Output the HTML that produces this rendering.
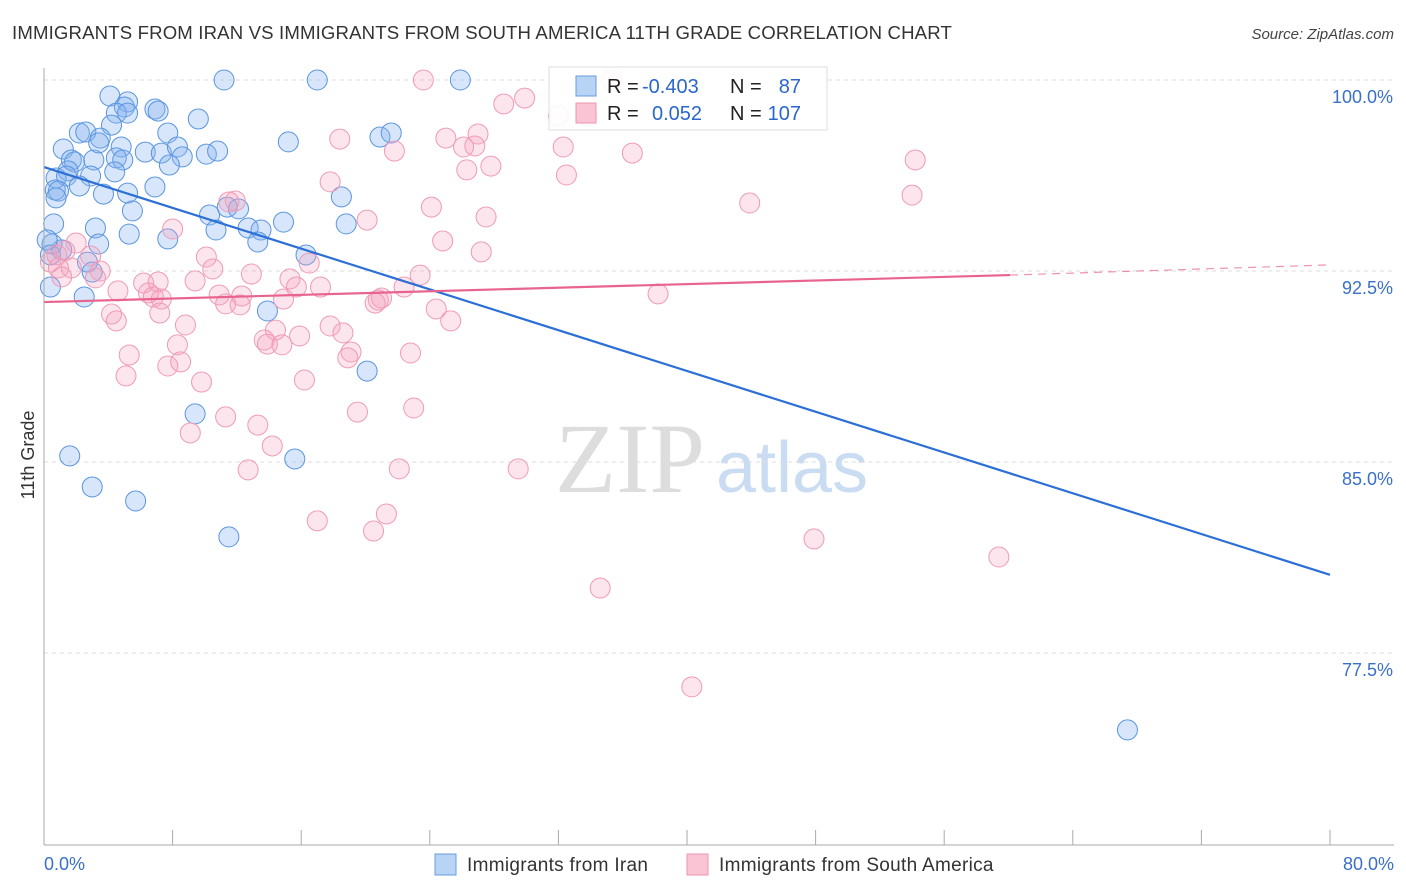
<!DOCTYPE html>
<html><head><meta charset="utf-8"><style>
body{margin:0;background:#fff;font-family:"Liberation Sans",sans-serif;}
#wrap{position:relative;width:1406px;height:892px;overflow:hidden;}
</style></head><body>
<div id="wrap">
<svg id="svg" width="1406" height="892" xmlns="http://www.w3.org/2000/svg">
<text x="12" y="39" font-size="18.6" letter-spacing="0.15" fill="#333">IMMIGRANTS FROM IRAN VS IMMIGRANTS FROM SOUTH AMERICA 11TH GRADE CORRELATION CHART</text>
<text x="1394" y="39" font-size="15" fill="#444" font-style="italic" text-anchor="end">Source: ZipAtlas.com</text>
<text x="555" y="492" font-size="100" fill="#ddd" font-family="Liberation Serif,serif">ZIP</text>
<text x="716" y="492" font-size="72" fill="#c9dcf2">atlas</text>
<text transform="translate(34,455) rotate(-90)" font-size="18" fill="#333" text-anchor="middle">11th Grade</text>
<g id="grid"></g><g id="pts"></g><g id="lines"></g>
<line x1="44" y1="68" x2="44" y2="845" stroke="#aaa"/>
<line x1="44" y1="845" x2="1394" y2="845" stroke="#aaa"/>
<text x="44" y="870" font-size="18" fill="#3a70c8">0.0%</text>
<text x="1394" y="870" font-size="18" fill="#3a70c8" text-anchor="end">80.0%</text>
<rect x="435" y="854" width="21" height="21" fill="#b8d4f5" stroke="#6a9de0"/>
<text x="467" y="871" font-size="19" letter-spacing="0.3" fill="#333">Immigrants from Iran</text>
<rect x="687" y="854" width="21" height="21" fill="#fac4d4" stroke="#ee94b0"/>
<text x="719" y="871" font-size="19" letter-spacing="0.3" fill="#333">Immigrants from South America</text>
<g>
<rect x="549" y="67" width="278" height="63" fill="#fff" fill-opacity="0.9" stroke="#ddd"/>
<rect x="576" y="76" width="20" height="20" fill="#b8d4f5" stroke="#6a9de0"/>
<rect x="576" y="103" width="20" height="20" fill="#fac4d4" stroke="#ee94b0"/>
<text x="607" y="93" font-size="20" fill="#222">R =</text>
<text x="642" y="93" font-size="20" fill="#2a66cc">-0.403</text>
<text x="730" y="93" font-size="20" fill="#222">N =</text>
<text x="801" y="93" font-size="20" fill="#2a66cc" text-anchor="end">87</text>
<text x="607" y="120" font-size="20" fill="#222">R =</text>
<text x="652" y="120" font-size="20" fill="#2a66cc">0.052</text>
<text x="730" y="120" font-size="20" fill="#222">N =</text>
<text x="801" y="120" font-size="20" fill="#2a66cc" text-anchor="end">107</text>
</g>
</svg>
</div>
<script>
const yTicks=[100,92.5,85,77.5];
const yTickLabels=["100.0%","92.5%","85.0%","77.5%"];
const xTicks=[0,8,16,24,32,40,48,56,64,72,80];
const iranX=[11.2,17.0,25.9,4.1,5.2,6.9,5.0,7.1,9.6,4.5,4.2,5.2,2.2,2.6,7.7,20.9,21.6,3.5,15.2,1.2,6.3,7.3,8.3,8.6,10.1,10.8,4.8,1.7,1.9,3.1,4.5,4.9,3.4,7.8,1.5,4.4,2.9,0.75,1.4,2.2,0.7,0.9,3.7,5.2,6.9,18.5,5.5,10.3,11.4,12.1,0.75,0.6,3.2,5.3,10.7,12.7,13.5,14.9,18.8,7.7,13.3,3.4,1.1,0.5,16.3,2.7,3.0,2.5,13.9,20.1,9.4,1.6,15.6,3.0,5.7,11.5,67.4,0.2,0.4,0.4];
const iranY=[100,100,100,99.37,99.14,98.86,98.94,98.78,98.47,98.70,98.23,98.70,97.92,97.96,97.92,97.76,97.92,97.72,97.57,97.29,97.17,97.13,97.37,96.98,97.09,97.21,97.37,96.86,96.78,96.86,96.94,96.86,97.53,96.66,96.43,96.39,96.23,96.15,96.23,95.84,95.68,95.64,95.52,95.56,95.80,95.41,94.86,94.70,95.01,94.94,95.37,94.35,94.19,93.95,94.11,94.19,94.11,94.42,94.35,93.76,93.64,93.56,93.33,93.56,93.13,92.85,92.46,91.48,90.93,88.57,86.89,85.24,85.12,84.02,83.47,82.06,74.48,93.72,93.13,91.87];
const saX=[23.6,35.3,28.6,29.9,32.0,33.8,18.4,25.0,27.0,26.1,26.8,21.8,32.3,36.6,27.8,26.3,17.8,32.5,11.9,24.1,20.1,27.5,43.9,54.2,54.0,8.0,2.0,24.8,27.2,10.1,1.3,2.9,0.4,0.9,1.7,3.5,1.1,3.2,0.8,9.4,6.2,7.1,10.5,12.9,15.3,16.5,23.4,17.2,10.9,4.6,6.5,6.8,7.3,12.3,14.9,15.7,20.8,22.4,11.3,12.2,20.6,21.0,24.4,25.3,38.2,4.2,4.5,7.2,8.8,14.4,17.8,18.6,13.7,13.9,14.8,15.9,19.1,18.9,8.3,5.3,7.7,8.5,22.8,5.1,9.8,16.2,11.3,9.1,19.5,23.0,13.3,14.2,12.7,22.1,29.5,17.0,20.5,21.3,34.6,40.3,47.9,59.4,11.5];
const saY=[100,100,99.06,99.29,98.59,98.59,97.68,97.72,97.88,97.37,97.41,97.21,97.37,97.13,96.62,96.47,96.00,96.27,95.25,95.01,94.50,94.62,95.17,96.86,95.48,94.15,93.60,93.68,93.25,93.05,93.29,93.09,92.85,92.62,92.62,92.50,92.27,92.23,93.13,92.11,92.03,92.07,92.58,92.38,92.19,92.81,92.34,91.87,91.56,91.72,91.64,91.48,91.40,91.52,91.40,91.87,91.36,91.87,91.21,91.17,91.24,91.44,91.01,90.54,91.60,90.81,90.54,90.85,90.38,90.18,90.34,90.07,89.79,89.63,89.60,89.95,89.32,89.09,89.60,89.20,88.77,88.93,89.28,88.38,88.14,88.22,86.77,86.14,86.96,87.12,86.45,85.63,84.69,84.73,84.73,82.69,82.29,82.96,80.05,76.17,81.98,81.27,95.21];
const iranTrend=[[0,96.58],[80,80.57]];
const saTrend=[[0,91.28],[60.1,92.34],[80,92.74]];
const NS="http://www.w3.org/2000/svg";
const sx=v=>44+v*(1286/80);
const sy=v=>80+(100-v)*(191/7.5);
function mk(tag,attrs,parent){const e=document.createElementNS(NS,tag);for(const k in attrs)e.setAttribute(k,attrs[k]);parent.appendChild(e);return e;}
const grid=document.getElementById('grid'),pts=document.getElementById('pts'),lines=document.getElementById('lines'),svg=document.getElementById('svg');
yTicks.forEach((t,i)=>{
 const l=mk('line',{x1:44,x2:1394,y1:sy(t),y2:sy(t),stroke:'#ddd','stroke-dasharray':'4,4'},grid);
 
 
 const tx=mk('text',{x:1393,y:sy(t)+23,'font-size':18,fill:'#3a70c8','text-anchor':'end'},svg);
 tx.textContent=yTickLabels[i];
 
 
});
xTicks.forEach(t=>{
 const l=mk('line',{x1:sx(t),x2:sx(t),y1:830,y2:845,stroke:'#aaa'},svg);
 
 
});
iranX.forEach((x,i)=>{
 const c=mk('circle',{cx:sx(x),cy:sy(iranY[i]),r:10,fill:'rgba(130,178,238,0.32)',stroke:'#5a95e0','stroke-width':1},pts);
 
 
});
saX.forEach((x,i)=>{
 const c=mk('circle',{cx:sx(x),cy:sy(saY[i]),r:10,fill:'rgba(245,160,190,0.28)',stroke:'#f09ab5','stroke-width':1},pts);
 
 
});
const bl=mk('line',{x1:sx(iranTrend[0][0]),y1:sy(iranTrend[0][1]),x2:sx(iranTrend[1][0]),y2:sy(iranTrend[1][1]),stroke:'#2c6fd6','stroke-width':2.2},lines);


const pl=mk('line',{x1:sx(saTrend[0][0]),y1:sy(saTrend[0][1]),x2:sx(saTrend[1][0]),y2:sy(saTrend[1][1]),stroke:'#e8648f','stroke-width':2.2},lines);


const pd=mk('line',{x1:sx(saTrend[1][0]),y1:sy(saTrend[1][1]),x2:sx(saTrend[2][0]),y2:sy(saTrend[2][1]),stroke:'#e8648f','stroke-width':1.2,'stroke-dasharray':'8,6','opacity':0.7},lines);


</script>
</body></html>
